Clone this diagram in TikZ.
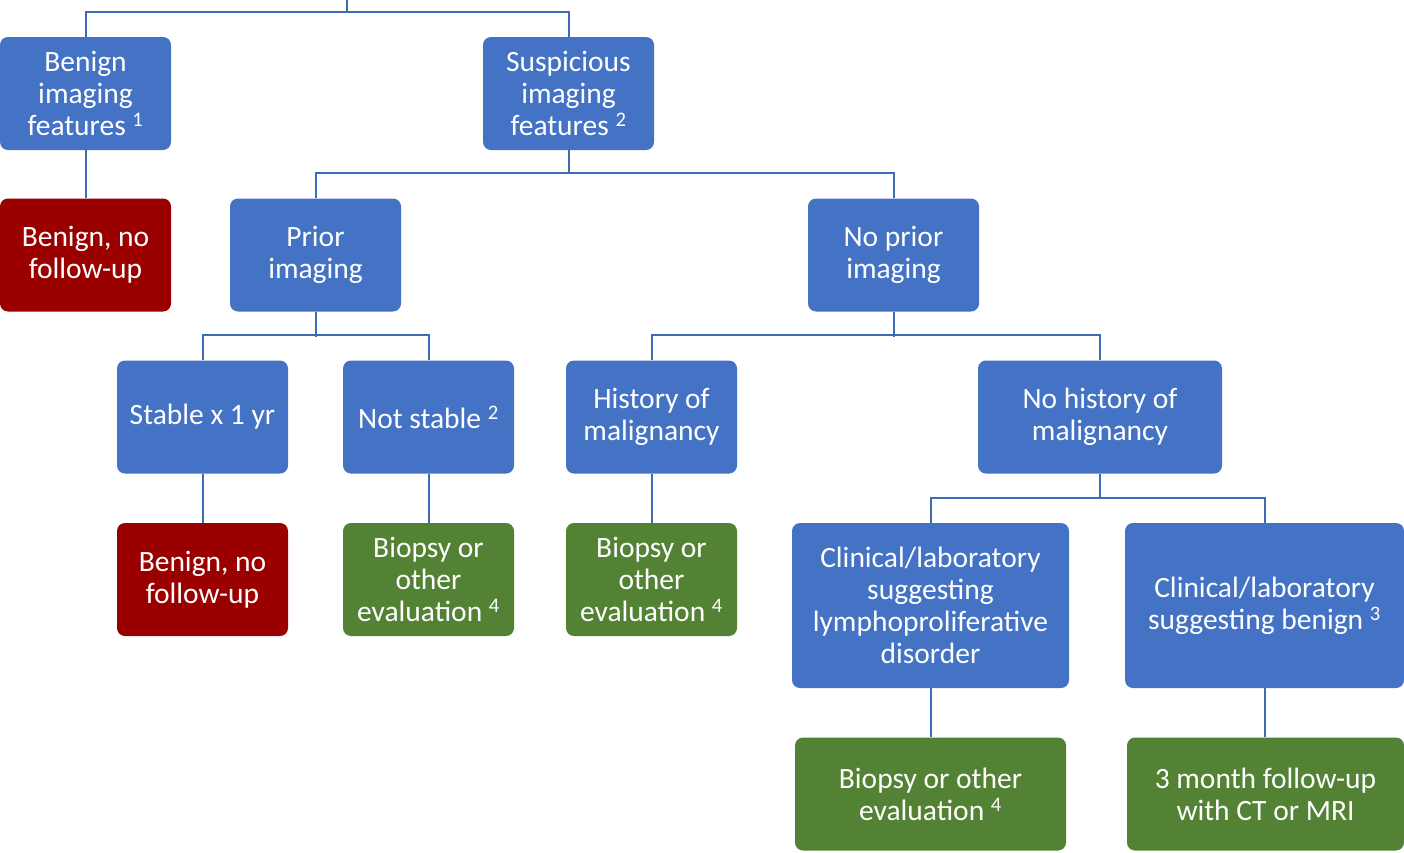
\documentclass[tikz,border=0pt]{standalone}
\usepackage{fontspec}
\setmainfont{Carlito}
\usetikzlibrary{calc}
\definecolor{NodeBlue}{RGB}{68,114,196}
\definecolor{StopRed}{RGB}{155,0,0}
\definecolor{ActGreen}{RGB}{84,130,53}
\definecolor{LinkBlue}{RGB}{62,106,184}
\tikzset{
  box/.style={rounded corners=8pt, text=white, align=center, inner sep=0pt,
    minimum width=171pt, minimum height=113pt, font=\fontsize{29.5}{32}\selectfont},
  qbox/.style={box, fill=NodeBlue},
  stopbox/.style={box, fill=StopRed},
  actbox/.style={box, fill=ActGreen},
  link/.style={draw=LinkBlue, line width=2pt}
}

\begin{document}
\begin{tikzpicture}[x=1pt,y=-1pt]
\useasboundingbox (0,0) rectangle (1404,852);
% first split
\node[qbox] (benfeat) at (85.5,93.5) {Benign\\imaging\\features \textsuperscript{1}};
\node[qbox] (susfeat) at (568.5,93.5) {Suspicious\\imaging\\features \textsuperscript{2}};
\node[stopbox] (benstop) at (85.5,255) {Benign, no\\follow-up};
\node[qbox] (prior) at (315.5,255) {Prior\\imaging};
\node[qbox] (noprior) at (893.5,255) {No prior\\imaging};
% second level
\node[qbox] (stable) at (202.5,417) {Stable x 1 yr};
\node[qbox] (unstable) at (428.5,417) {Not stable \textsuperscript{2}};
\node[qbox] (hist) at (651.5,417) {History of\\malignancy};
\node[qbox, minimum width=244pt] (nohist) at (1100,417) {No history of\\malignancy};
\node[stopbox] (stablestop) at (202.5,579.5) {Benign, no\\follow-up};
\node[actbox] (unstablebx) at (428.5,579.5) {Biopsy or\\other\\evaluation \textsuperscript{4}};
\node[actbox] (histbx) at (651.5,579.5) {Biopsy or\\other\\evaluation \textsuperscript{4}};
\node[qbox, minimum width=277pt, minimum height=165pt] (clinlym) at (930.5,605.5)
  {Clinical/laboratory\\suggesting\\lymphoproliferative\\disorder};
\node[qbox, minimum width=279pt, minimum height=165pt] (clinben) at (1264.5,605.5)
  {Clinical/laboratory\\suggesting benign \textsuperscript{3}};
\node[actbox, minimum width=271pt] (clinbx) at (930.5,794) {Biopsy or other\\evaluation \textsuperscript{4}};
\node[actbox, minimum width=277pt] (clinfu) at (1265.5,794) {3 month follow-up\\with CT or MRI};
% connectors
\coordinate (root) at (347,0);
\draw[link] (root) -- ++(0,12);
\draw[link] (benfeat.north) -- ++(0,-25) -| (susfeat.north);
\draw[link] (benfeat) -- (benstop);
\draw[link] (susfeat.south) -- ++(0,24);
\draw[link] (prior.north) -- ++(0,-25) -| (noprior.north);
\draw[link] (prior.south) -- ++(0,25);
\draw[link] (stable.north) -- ++(0,-25) -| (unstable.north);
\draw[link] (noprior.south) -- ++(0,25);
\draw[link] (hist.north) -- ++(0,-25) -| (nohist.north);
\draw[link] (stable) -- (stablestop);
\draw[link] (unstable) -- (unstablebx);
\draw[link] (hist) -- (histbx);
\draw[link] (nohist.south) -- ++(0,25);
\draw[link] (clinlym.north) -- ++(0,-25) -| (clinben.north);
\draw[link] (clinlym) -- (clinbx);
\draw[link] (clinben.south) -- (clinben.south |- clinfu.north);
\end{tikzpicture}
\end{document}
